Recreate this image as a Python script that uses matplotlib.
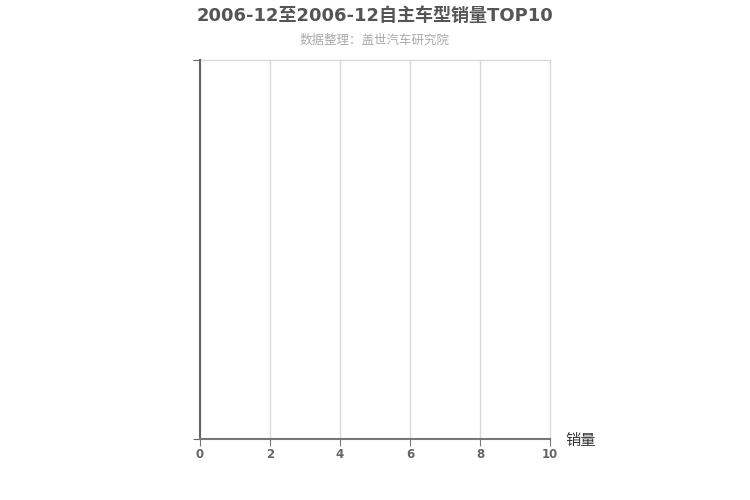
import matplotlib
matplotlib.use('Agg')
import matplotlib.pyplot as plt

plt.rcParams['font.family'] = ['DejaVu Sans', 'Noto Sans CJK SC']

title = '2006-12至2006-12自主车型销量TOP10'
subtitle = '数据整理：盖世汽车研究院'
models = []      # no data in the chart
sales = []
xticks = [0, 2, 4, 6, 8, 10]

fig = plt.figure(figsize=(7.5, 5), dpi=100, facecolor='white')
ax = fig.add_axes([200 / 750, 1 - 439 / 500, 350 / 750, 379 / 500])

ax.barh(models, sales, color='#5b9bd5')
ax.set_xlim(0, 10)
ax.set_ylim(0, 1)
ax.set_xticks(xticks)
ax.set_xticklabels([str(t) for t in xticks], fontsize=8.5, fontweight='bold', color='#666666')
ax.set_yticks([0, 1])
ax.set_yticklabels([])

ax.grid(axis='x', color='#d9d9d9', linewidth=1)
for gl in ax.get_xgridlines():
    gl.set_clip_on(False)
ax.set_axisbelow(True)
for s in ['top', 'right']:
    ax.spines[s].set_visible(False)
ax.axhline(1, color='#d9d9d9', linewidth=1, clip_on=False)
ax.spines['left'].set_color('#666666')
ax.spines['left'].set_linewidth(1.5)
ax.spines['bottom'].set_color('#777777')
ax.spines['bottom'].set_linewidth(1.5)
ax.tick_params(axis='x', length=5, color='#777777', pad=1.5)
ax.tick_params(axis='y', length=5, color='#666666')

ax.text(1.045, -0.005, '销量', transform=ax.transAxes, fontsize=11, color='#333333',
        ha='left', va='center')

fig.text(0.5, 1 - 16 / 500, title, ha='center', va='center', fontsize=13,
         fontweight='bold', color='#555555')
fig.text(0.5, 1 - 40 / 500, subtitle, ha='center', va='center', fontsize=9,
         color='#aaaaaa')

fig.savefig('out.png', dpi=100, facecolor='white')
